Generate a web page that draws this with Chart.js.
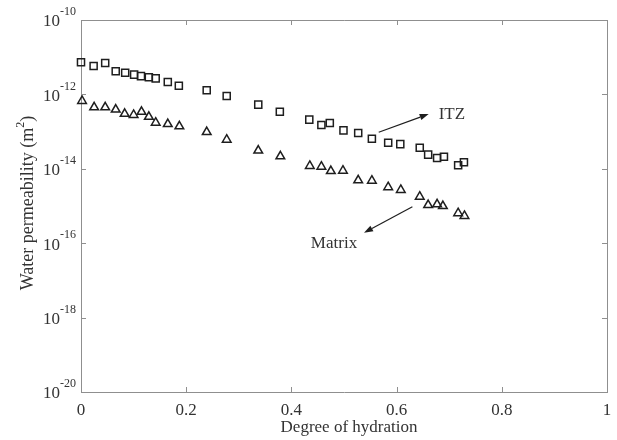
<!DOCTYPE html>
<html>
<head>
<meta charset="utf-8">
<script src="https://cdn.jsdelivr.net/npm/chart.js@4.4.1/dist/chart.umd.min.js"></script>
<style>
  html, body { margin: 0; padding: 0; background: #fff; }
  #wrap { width: 617px; height: 440px; }
</style>
</head>
<body>
<div id="wrap"><canvas id="chart" width="617" height="440"></canvas></div>
<script>
// degree of hydration vs water permeability (m^2)
const itzHydration = [0.000, 0.024, 0.046, 0.066, 0.084, 0.101, 0.114, 0.129, 0.142, 0.165, 0.186, 0.239, 0.277, 0.337, 0.378,
                      0.434, 0.457, 0.473, 0.499, 0.527, 0.553, 0.584, 0.607, 0.644, 0.660, 0.677, 0.690, 0.717, 0.728];
const itzPerm = [7.3e-12, 5.8e-12, 7.0e-12, 4.2e-12, 3.8e-12, 3.4e-12, 3.1e-12, 2.9e-12, 2.7e-12, 2.15e-12, 1.7e-12, 1.3e-12, 9.1e-13, 5.3e-13, 3.4e-13,
                 2.1e-13, 1.5e-13, 1.7e-13, 1.08e-13, 9.2e-14, 6.4e-14, 5.0e-14, 4.6e-14, 3.7e-14, 2.4e-14, 1.95e-14, 2.1e-14, 1.24e-14, 1.5e-14];

const matrixHydration = [0.002, 0.025, 0.046, 0.066, 0.083, 0.100, 0.115, 0.129, 0.142, 0.165, 0.187, 0.239, 0.277, 0.337, 0.379,
                         0.435, 0.457, 0.475, 0.498, 0.527, 0.553, 0.584, 0.608, 0.644, 0.660, 0.677, 0.688, 0.717, 0.729];
const matrixPerm = [6.65e-13, 4.5e-13, 4.5e-13, 3.9e-13, 3.0e-13, 2.8e-13, 3.4e-13, 2.5e-13, 1.73e-13, 1.6e-13, 1.39e-13, 9.75e-14, 6.05e-14, 3.1e-14, 2.17e-14,
                    1.19e-14, 1.14e-14, 8.7e-15, 8.9e-15, 4.9e-15, 4.8e-15, 3.2e-15, 2.7e-15, 1.78e-15, 1.06e-15, 1.11e-15, 1.0e-15, 6.4e-16, 5.4e-16];

const xTicks = [0, 0.2, 0.4, 0.6, 0.8, 1];
const yExponents = [-20, -18, -16, -14, -12, -10];

// annotation labels and arrows (data coordinates)
const noteLabels = ['ITZ', 'Matrix'];
const noteText = [[0.680, 2.8e-13], [0.481, 1.0e-16]];
const noteArrowFrom = [[0.566, 9.6e-14], [0.630, 9.6e-16]];
const noteArrowTo = [[0.661, 2.97e-13], [0.538, 1.9e-16]];

const FONT = "'Liberation Serif', 'Times New Roman', serif";
const INK = '#1e1e1e';
const AXIS = '#8f8f8f';

function toPoints(xs, ys) {
    return xs.map((x, i) => ({ x: x, y: ys[i] }));
}

const framePlugin = {
    id: 'frame',
    afterDraw(chart) {
        const ctx = chart.ctx;
        const a = chart.chartArea;
        const xs = chart.scales.x;
        const ys = chart.scales.y;
        ctx.save();

        // box + inward ticks
        ctx.strokeStyle = AXIS;
        ctx.lineWidth = 1;
        ctx.beginPath();
        ctx.moveTo(a.left, a.top + 0.5);
        ctx.lineTo(a.right + 0.5, a.top + 0.5);
        ctx.lineTo(a.right + 0.5, a.bottom);
        xTicks.forEach(v => {
            const px = Math.round(xs.getPixelForValue(v)) + 0.5;
            ctx.moveTo(px, a.bottom); ctx.lineTo(px, a.bottom - 5);
            ctx.moveTo(px, a.top); ctx.lineTo(px, a.top + 5);
        });
        yExponents.forEach(e => {
            const py = Math.round(ys.getPixelForValue(Math.pow(10, e))) + 0.5;
            ctx.moveTo(a.left, py); ctx.lineTo(a.left + 5, py);
            ctx.moveTo(a.right, py); ctx.lineTo(a.right - 5, py);
        });
        ctx.stroke();

        // y tick labels as 10 with superscript exponent
        ctx.fillStyle = '#333';
        yExponents.forEach(e => {
            const py = ys.getPixelForValue(Math.pow(10, e));
            ctx.font = '12px ' + FONT;
            ctx.textAlign = 'left';
            ctx.textBaseline = 'middle';
            const expStr = String(e);
            const expW = ctx.measureText(expStr).width;
            const expX = a.left - 5 - expW;
            ctx.fillText(expStr, expX, py - 8);
            ctx.font = '17px ' + FONT;
            ctx.textAlign = 'right';
            ctx.fillText('10', expX, py + 2);
        });

        // axis titles
        ctx.fillStyle = '#333';
        ctx.font = '17px ' + FONT;
        ctx.textAlign = 'center';
        ctx.textBaseline = 'middle';
        ctx.fillText('Degree of hydration', (a.left + a.right) / 2 + 5, 428);

        ctx.save();
        ctx.translate(28, 203);
        ctx.rotate(-Math.PI / 2);
        const main = 'Water permeability (m';
        ctx.font = '18px ' + FONT;
        const wMain = ctx.measureText(main).width;
        const wParen = ctx.measureText(')').width;
        ctx.font = '12px ' + FONT;
        const wSup = ctx.measureText('2').width;
        const total = wMain + wSup + wParen;
        let cx = -total / 2;
        ctx.textAlign = 'left';
        ctx.font = '18px ' + FONT;
        ctx.fillText(main, cx, 0);
        cx += wMain;
        ctx.font = '12px ' + FONT;
        ctx.fillText('2', cx, -7);
        cx += wSup;
        ctx.font = '18px ' + FONT;
        ctx.fillText(')', cx, 0);
        ctx.restore();

        // annotations
        ctx.strokeStyle = INK;
        ctx.fillStyle = INK;
        ctx.lineWidth = 1.2;
        noteLabels.forEach((lbl, i) => {
            const x1 = xs.getPixelForValue(noteArrowFrom[i][0]);
            const y1 = ys.getPixelForValue(noteArrowFrom[i][1]);
            const x2 = xs.getPixelForValue(noteArrowTo[i][0]);
            const y2 = ys.getPixelForValue(noteArrowTo[i][1]);
            const ang = Math.atan2(y2 - y1, x2 - x1);
            const hl = 9, hw = 3.2;
            const bx = x2 - hl * Math.cos(ang), by = y2 - hl * Math.sin(ang);
            ctx.beginPath();
            ctx.moveTo(x1, y1);
            ctx.lineTo(bx, by);
            ctx.stroke();
            ctx.beginPath();
            ctx.moveTo(x2, y2);
            ctx.lineTo(bx + hw * Math.sin(ang), by - hw * Math.cos(ang));
            ctx.lineTo(bx - hw * Math.sin(ang), by + hw * Math.cos(ang));
            ctx.closePath();
            ctx.fill();

            ctx.font = '17px ' + FONT;
            ctx.fillStyle = '#333';
            ctx.textBaseline = 'middle';
            ctx.textAlign = i === 0 ? 'left' : 'center';
            ctx.fillText(lbl, xs.getPixelForValue(noteText[i][0]), ys.getPixelForValue(noteText[i][1]));
            ctx.fillStyle = INK;
        });

        ctx.restore();
    }
};

new Chart(document.getElementById('chart'), {
    type: 'scatter',
    data: {
        datasets: [{
            label: 'ITZ',
            data: toPoints(itzHydration, itzPerm),
            pointStyle: 'rect',
            pointRadius: 5,
            pointBorderWidth: 1.5,
            borderColor: INK,
            backgroundColor: 'rgba(0,0,0,0)',
            clip: false
        }, {
            label: 'Matrix',
            data: toPoints(matrixHydration, matrixPerm),
            pointStyle: 'triangle',
            pointRadius: 5,
            pointBorderWidth: 1.5,
            borderColor: INK,
            backgroundColor: 'rgba(0,0,0,0)',
            clip: false
        }]
    },
    options: {
        responsive: false,
        animation: false,
        devicePixelRatio: 1,
        layout: { padding: { top: 20, right: 10, left: 0, bottom: 0 } },
        plugins: { legend: { display: false }, tooltip: { enabled: false } },
        scales: {
            x: {
                type: 'linear',
                min: 0,
                max: 1,
                afterFit: s => { s.height = 48; },
                afterBuildTicks: s => { s.ticks = xTicks.map(v => ({ value: v })); },
                grid: { display: false },
                border: { display: true, color: AXIS, width: 1 },
                ticks: {
                    padding: 0,
                    color: '#333',
                    font: { family: FONT, size: 17 },
                    maxRotation: 0,
                    callback: v => String(v)
                }
            },
            y: {
                type: 'logarithmic',
                min: 1e-20,
                max: 1e-10,
                afterFit: s => { s.width = 81; },
                afterBuildTicks: s => { s.ticks = yExponents.map(e => ({ value: Math.pow(10, e) })); },
                grid: { display: false },
                border: { display: true, color: AXIS, width: 1 },
                ticks: { display: false }
            }
        }
    },
    plugins: [framePlugin]
});
</script>
</body>
</html>
